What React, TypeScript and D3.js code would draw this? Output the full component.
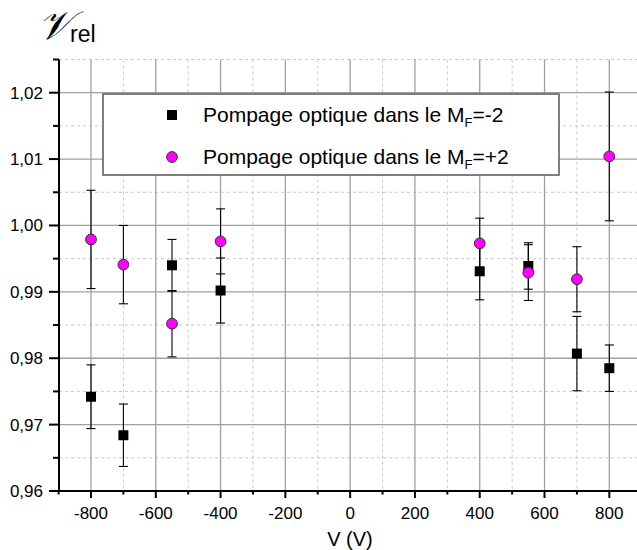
import React from "react";
import * as d3 from "d3";

const voltages = [-800, -700, -550, -400, 400, 550, 700, 800];
const relMinus2 = [0.9742, 0.9684, 0.994, 0.9902, 0.9931, 0.9939, 0.9807, 0.9785];
const errMinus2 = [0.0048, 0.0047, 0.0039, 0.0049, 0.0043, 0.0035, 0.0056, 0.0035];
const relPlus2 = [0.9979, 0.9941, 0.9852, 0.9976, 0.9973, 0.9929, 0.9919, 1.0104];
const errPlus2 = [0.0074, 0.0059, 0.005, 0.0049, 0.0038, 0.0042, 0.0049, 0.0097];

const xMajorTicks = [-800, -600, -400, -200, 0, 200, 400, 600, 800];
const xMinorTicks = [-900, -700, -500, -300, -100, 100, 300, 500, 700, 900];
const yMajorTicks = [0.96, 0.97, 0.98, 0.99, 1.0, 1.01, 1.02];
const yMinorTicks = [0.965, 0.975, 0.985, 0.995, 1.005, 1.015, 1.025];

const legendLabels = ["=-2", "=+2"];

const W = 637;
const H = 550;

export default function App() {
  const x = d3.scaleLinear().domain([-900, 900]).range([58.6, 641.7]);
  const y = d3.scaleLinear().domain([0.96, 1.025]).range([491, 59.5]);
  const fmt = (v: number) => d3.format(".2f")(v).replace(".", ",");
  const font = "'Liberation Sans', Arial, sans-serif";

  const gridMajor = "#a0a0a0";
  const gridMinor = "#c8c8c8";

  const errBars = (vals: number[], errs: number[], key: string) =>
    voltages.map((v, i) => {
      const cx = x(v);
      const top = y(vals[i] + errs[i]);
      const bot = y(vals[i] - errs[i]);
      return (
        <g key={key + i} stroke="#000" strokeWidth={1.1}>
          <line x1={cx} x2={cx} y1={top} y2={bot} />
          <line x1={cx - 4.5} x2={cx + 4.5} y1={top} y2={top} />
          <line x1={cx - 4.5} x2={cx + 4.5} y1={bot} y2={bot} />
        </g>
      );
    });

  return (
    <svg
      width={W}
      height={H}
      style={{ position: "absolute", left: 0, top: 0, background: "#fff" }}
      fontFamily={font}
    >
      <rect x={0} y={0} width={W} height={H} fill="#fff" />
      {/* grid */}
      {xMinorTicks.slice(1).map((t) => (
        <line key={"gxm" + t} x1={x(t)} x2={x(t)} y1={59.5} y2={491} stroke={gridMinor} strokeDasharray="3,3" strokeWidth={1} />
      ))}
      {yMinorTicks.map((t) => (
        <line key={"gym" + t} x1={59} x2={W} y1={y(t)} y2={y(t)} stroke={gridMinor} strokeDasharray="3,3" strokeWidth={1} />
      ))}
      {xMajorTicks.map((t) => (
        <line key={"gx" + t} x1={x(t)} x2={x(t)} y1={59.5} y2={491} stroke={gridMajor} strokeWidth={1.3} />
      ))}
      {yMajorTicks.slice(1).map((t) => (
        <line key={"gy" + t} x1={59} x2={W} y1={y(t)} y2={y(t)} stroke={gridMajor} strokeWidth={1.3} />
      ))}

      {/* error bars */}
      {errBars(relMinus2, errMinus2, "em")}
      {errBars(relPlus2, errPlus2, "ep")}

      {/* squares */}
      {voltages.map((v, i) => (
        <rect key={"sq" + i} x={x(v) - 5} y={y(relMinus2[i]) - 5} width={10} height={10} fill="#000" />
      ))}
      {/* circles */}
      {voltages.map((v, i) => (
        <circle key={"ci" + i} cx={x(v)} cy={y(relPlus2[i])} r={5.4} fill="#ff00ff" stroke="#333" strokeWidth={1} />
      ))}

      {/* axes */}
      <line x1={59} x2={59} y1={59.5} y2={492} stroke="#000" strokeWidth={2} />
      <line x1={58} x2={W} y1={491} y2={491} stroke="#000" strokeWidth={2} />
      {yMajorTicks.map((t) => (
        <line key={"ty" + t} x1={49} x2={59} y1={y(t)} y2={y(t)} stroke="#000" strokeWidth={2} />
      ))}
      {yMinorTicks.map((t) => (
        <line key={"tym" + t} x1={53} x2={59} y1={y(t)} y2={y(t)} stroke="#000" strokeWidth={2} />
      ))}
      {xMajorTicks.map((t) => (
        <line key={"tx" + t} x1={x(t)} x2={x(t)} y1={491} y2={498} stroke="#000" strokeWidth={2} />
      ))}
      {xMinorTicks.map((t) => (
        <line key={"txm" + t} x1={x(t)} x2={x(t)} y1={491} y2={494.5} stroke="#000" strokeWidth={2} />
      ))}

      {/* tick labels */}
      {yMajorTicks.map((t) => (
        <text key={"ly" + t} x={43} y={y(t) + 6} textAnchor="end" fontSize={17} fill="#000">
          {fmt(t)}
        </text>
      ))}
      {xMajorTicks.map((t) => (
        <text key={"lx" + t} x={x(t)} y={519} textAnchor="middle" fontSize={17} fill="#000">
          {t}
        </text>
      ))}

      {/* axis titles */}
      <text x={350} y={546} textAnchor="middle" fontSize={20} fill="#000">
        V (V)
      </text>
      <text x={38} y={39} fill="#000">
        <tspan fontSize={40} fontFamily="'DejaVu Serif', serif" fontStyle="italic">𝒱</tspan>
        <tspan fontSize={23} dx={-1} dy={3} fontFamily={font}>rel</tspan>
      </text>

      {/* legend */}
      <rect x={103} y={94} width={456} height={81} fill="#fff" stroke="#555" strokeWidth={1.5} />
      <rect x={167} y={110} width={10} height={10} fill="#000" />
      <circle cx={172} cy={157} r={5.4} fill="#ff00ff" stroke="#333" strokeWidth={1} />
      {legendLabels.map((l, i) => (
        <text key={"lg" + i} x={203} y={122 + i * 42} fontSize={21} fill="#000">
          Pompage optique dans le M
          <tspan fontSize={13} dy={5}>F</tspan>
          <tspan dy={-5}>{l}</tspan>
        </text>
      ))}
    </svg>
  );
}
